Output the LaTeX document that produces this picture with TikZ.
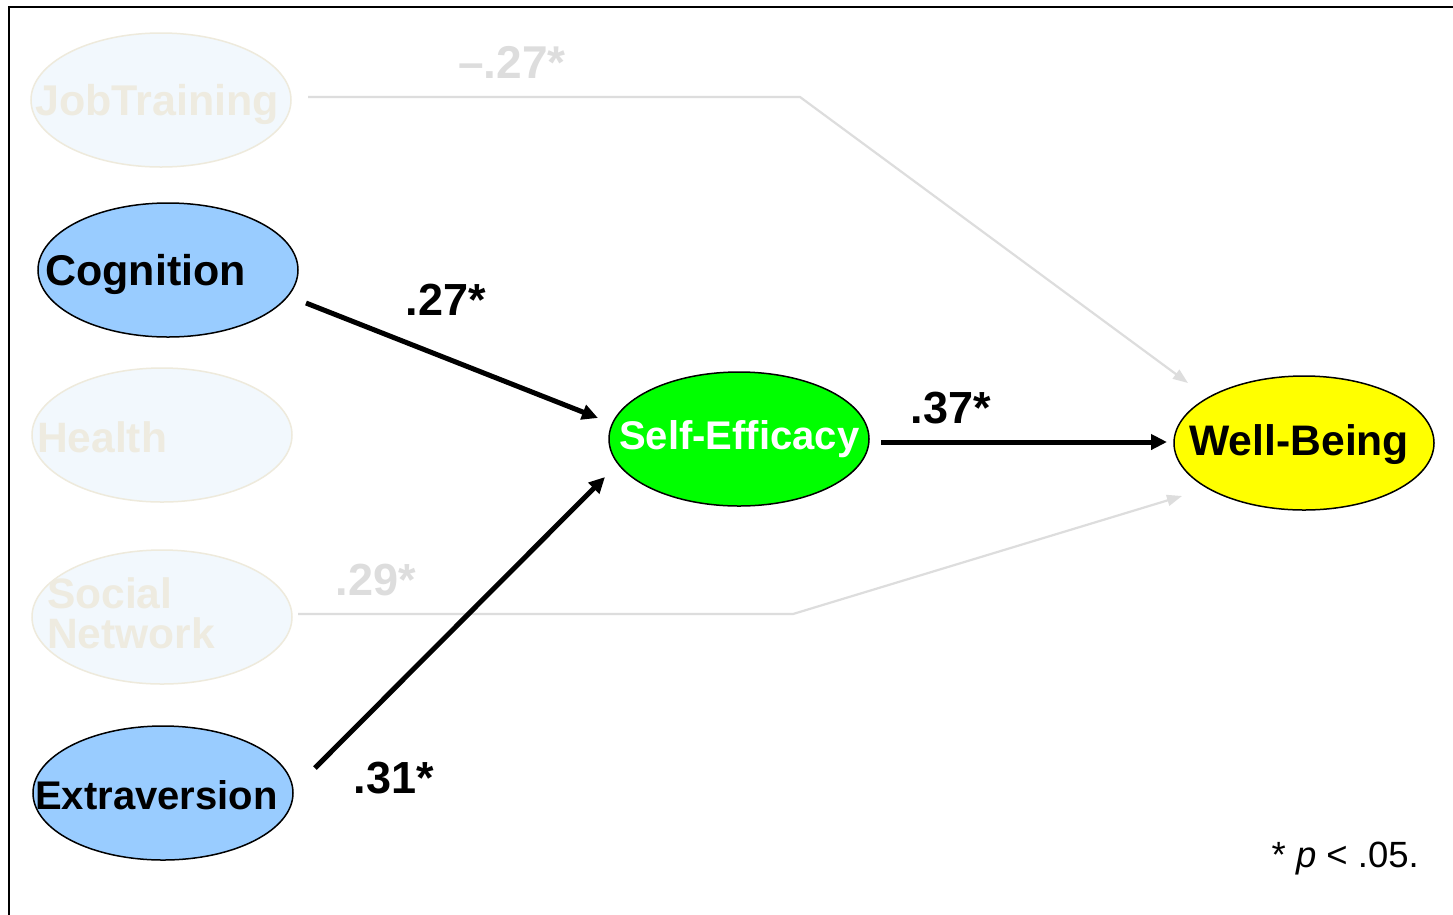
\documentclass[tikz,border=0pt]{standalone}
\usepackage{fontspec}
\setmainfont{Liberation Sans}
\usetikzlibrary{arrows.meta,shapes.geometric}
\definecolor{sigblue}{HTML}{99CCFF}
\definecolor{fadefill}{HTML}{F2F8FD}
\definecolor{fadeline}{HTML}{EEEADC}
\definecolor{fadetext}{HTML}{EEEBE0}
\definecolor{fadeedge}{HTML}{DDDDDD}
\definecolor{segreen}{HTML}{00FF00}
\definecolor{wbyellow}{HTML}{FFFF00}
\tikzset{
  oval/.style={ellipse, minimum width=260pt, minimum height=134pt, inner sep=0pt, line width=1.5pt},
  sigoval/.style={oval, draw=black, fill=sigblue},
  fadeoval/.style={oval, draw=fadeline, fill=fadefill},
  lbl/.style={anchor=base west, inner sep=0pt, font=\fontsize{42.5}{42.5}\selectfont\bfseries},
  fadelbl/.style={lbl, text=fadetext},
  coef/.style={anchor=base, inner sep=0pt, font=\fontsize{45}{45}\selectfont\bfseries},
  fadecoef/.style={coef, text=fadeedge},
  sigpath/.style={line width=5pt, -{Triangle[length=16pt,width=15pt]}},
  fadepath/.style={line width=2.2pt, draw=fadeedge, -{Triangle[length=15pt,width=11pt]}, fadeedge},
}
\begin{document}
\begin{tikzpicture}[x=1pt,y=-1pt]
\useasboundingbox (0,0) rectangle (1453,914);
\fill[white] (0,0) rectangle (1453,914);
\draw[line width=2pt] (9,930) -- (9,7) -- (1470,7);

% ellipses
\node[fadeoval] (job) at (161,100) {};
\node[sigoval] (cog) at (168,270) {};
\node[fadeoval] (hea) at (162,435) {};
\node[fadeoval] (soc) at (162,617) {};
\node[sigoval] (ext) at (163,793) {};
\node[oval, draw=black, fill=segreen] (se) at (739,439) {};
\node[oval, draw=black, fill=wbyellow] (wb) at (1304,443) {};

% ellipse texts
\node[fadelbl, font=\fontsize{43}{43}\selectfont\bfseries] (jobt) at (35,115) {JobTraining};
\node[lbl, font=\fontsize{43}{43}\selectfont\bfseries] (cogt) at (45,285) {Cognition};
\node[fadelbl] (heat) at (37,452) {Health};
\node[fadelbl] (soct) at (47,608) {Social};
\node[fadelbl] (netw) at (47,648) {Network};
\node[lbl, font=\fontsize{40}{40}\selectfont\bfseries] (extt) at (35,809) {Extraversion};
\node[lbl, text=white, font=\fontsize{40}{40}\selectfont\bfseries] (set) at (619,449) {Self-Efficacy};
\node[lbl, font=\fontsize{42.7}{42.7}\selectfont\bfseries] (wbt) at (1189,455) {Well-Being};

% connector end points
\coordinate (cogA) at (306,303);
\coordinate (seA) at (598,418);
\coordinate (extA) at (315,768);
\coordinate (seB) at (605,477);
\coordinate (seC) at (881,442);
\coordinate (wbA) at (1167,442);
\coordinate (jobA) at (308,97);
\coordinate (jobB) at (800,97);
\coordinate (wbB) at (1188,383);
\coordinate (socA) at (298,614);
\coordinate (socB) at (793,614);
\coordinate (wbC) at (1182,496);

% faded paths
\draw[fadepath] (jobA) -- (jobB) -- (wbB);
\draw[fadepath] (socA) -- (socB) -- (wbC);

% significant paths
\draw[sigpath] (cogA) -- (seA);
\draw[sigpath] (extA) -- (seB);
\draw[sigpath] (seC) -- (wbA);

% coefficients
\node[fadecoef, font=\fontsize{46}{46}\selectfont\bfseries] (cjob) at (512,78) {–.27*};
\node[fadecoef] (csoc) at (376,595) {.29*};
\node[coef] (ccog) at (446,315) {.27*};
\node[coef] (cext) at (394,793) {.31*};
\node[coef] (cse) at (951,423) {.37*};

% note
\node[anchor=base east, inner sep=0pt, font=\fontsize{36.5}{36.5}\selectfont] (note) at (1419,867) {* \textit{p} < .05.};
\end{tikzpicture}
\end{document}
